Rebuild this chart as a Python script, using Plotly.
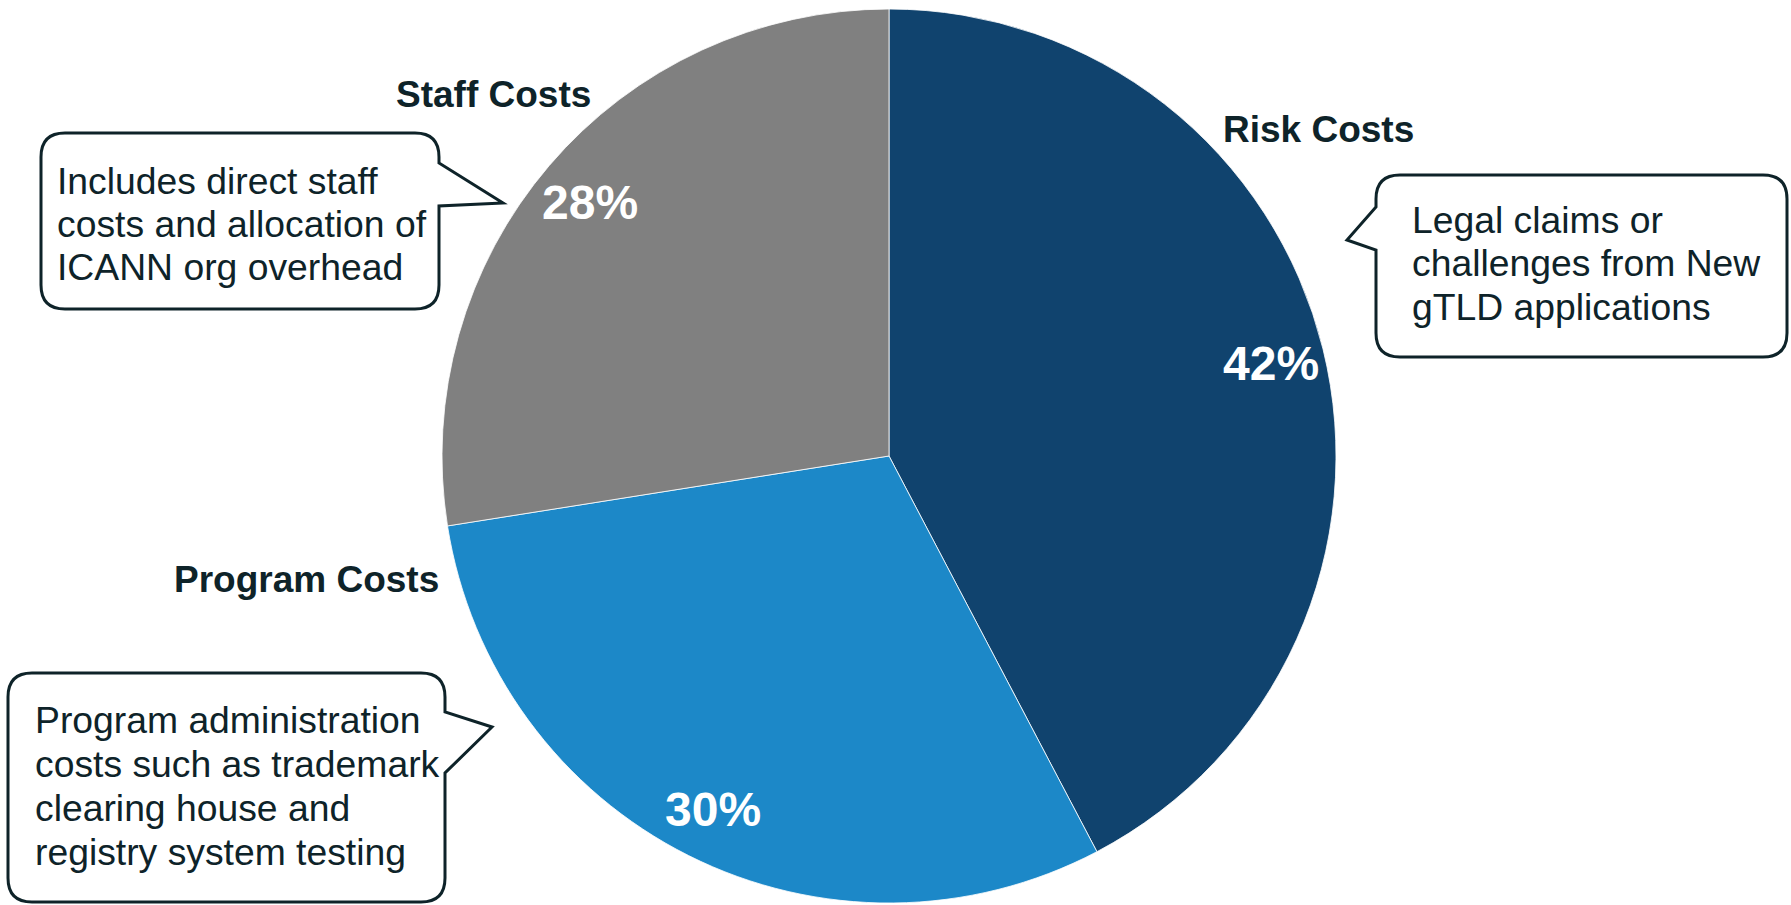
import math
import plotly.graph_objects as go

# ---------------- data ----------------
categories = ["Risk Costs", "Program Costs", "Staff Costs"]
values = [42.3, 30.2, 27.5]
pct_labels = ["42%", "30%", "28%"]
colors = ["#10436E", "#1C88C8", "#808080"]
descriptions = [
    ["Legal claims or", "challenges from New", "gTLD applications"],
    ["Program administration", "costs such as trademark", "clearing house and", "registry system testing"],
    ["Includes direct staff", "costs and allocation of", "ICANN org overhead"],
]

# ---------------- layout helpers (pixels -> paper) ----------------
W, H = 1791, 905
CX, CY, R = 889, 456, 447
TEXT = "#0E2329"
FONT = "Arial, Liberation Sans, Helvetica, sans-serif"
DESC_SIZE = 37.3
TITLE_SIZE = 37


def px(x):
    return x / W


def py(y):
    return 1 - y / H


fig = go.Figure(
    go.Pie(
        labels=categories,
        values=values,
        sort=False,
        direction="clockwise",
        rotation=0,
        marker=dict(colors=colors, line=dict(color="white", width=0.8)),
        textinfo="none",
        hoverinfo="label+percent",
        showlegend=False,
        domain=dict(x=[px(CX - R), px(CX + R)], y=[py(CY + R), py(CY - R)]),
    )
)

annotations = []

# percentage labels placed along each slice's mid-angle
total = sum(values)
cum = 0
for v, lab in zip(values, pct_labels):
    mid = (cum + v / 2) / total * 2 * math.pi
    cum += v
    x = CX + 0.88 * R * math.sin(mid)
    y = CY - 0.88 * R * math.cos(mid)
    annotations.append(dict(
        x=px(x), y=py(y + 2), xref="paper", yref="paper", text=lab, showarrow=False,
        xanchor="center", yanchor="middle",
        font=dict(family=FONT, size=48, color="white", weight="bold"),
    ))

# category titles: (x, baseline, anchor)
title_pos = {
    "Risk Costs": (1221, 142, "left"),
    "Program Costs": (441, 592, "right"),
    "Staff Costs": (593, 107, "right"),
}
for cat in categories:
    x, base, anc = title_pos[cat]
    annotations.append(dict(
        x=px(x), y=py(base - 0.35 * TITLE_SIZE), xref="paper", yref="paper", text=cat,
        showarrow=False, xanchor=anc, yanchor="middle",
        font=dict(family=FONT, size=TITLE_SIZE, color=TEXT, weight="bold"),
    ))

# callout boxes
boxes = {
    # x0, y0, x1, y1, side, tail start, tip, tail end, text left, first baseline, step
    "Risk Costs": (1376, 175, 1787, 357, "left", 207, (1347, 240), 250, 1410, 233, 43.5),
    "Program Costs": (8, 673, 445, 902, "right", 712, (492, 727), 773, 33, 733, 44),
    "Staff Costs": (41, 133, 439, 309, "right", 163, (503, 203), 206, 55, 194, 43),
}


def P(x, y):
    return f"{px(x):.6f},{py(y):.6f}"


def bubble(x0, y0, x1, y1, side, t0, tip, t1, r=24):
    parts = [f"M{P(x0 + r, y0)}", f"L{P(x1 - r, y0)}", f"Q{P(x1, y0)} {P(x1, y0 + r)}"]
    if side == "right":
        parts += [f"L{P(x1, t0)}", f"L{P(*tip)}", f"L{P(x1, t1)}"]
    parts += [f"L{P(x1, y1 - r)}", f"Q{P(x1, y1)} {P(x1 - r, y1)}",
              f"L{P(x0 + r, y1)}", f"Q{P(x0, y1)} {P(x0, y1 - r)}"]
    if side == "left":
        parts += [f"L{P(x0, t1)}", f"L{P(*tip)}", f"L{P(x0, t0)}"]
    parts += [f"L{P(x0, y0 + r)}", f"Q{P(x0, y0)} {P(x0 + r, y0)}", "Z"]
    return " ".join(parts)


shapes = []
for cat, lines in zip(categories, descriptions):
    x0, y0, x1, y1, side, t0, tip, t1, tx, b0, step = boxes[cat]
    shapes.append(dict(
        type="path", xref="paper", yref="paper", path=bubble(x0, y0, x1, y1, side, t0, tip, t1),
        fillcolor="white", line=dict(color=TEXT, width=3), layer="above",
    ))
    for i, line in enumerate(lines):
        base = b0 + i * step
        annotations.append(dict(
            x=px(tx), y=py(base - 0.35 * DESC_SIZE), xref="paper", yref="paper", text=line,
            showarrow=False, xanchor="left", yanchor="middle",
            font=dict(family=FONT, size=DESC_SIZE, color=TEXT),
        ))

fig.update_layout(
    width=W, height=H,
    margin=dict(l=0, r=0, t=0, b=0),
    paper_bgcolor="white", plot_bgcolor="white",
    annotations=annotations, shapes=shapes,
)

fig.write_html(
    "out.html",
    config={"displayModeBar": False},
    post_script="document.body.style.margin='0';document.body.style.overflow='hidden';",
)
